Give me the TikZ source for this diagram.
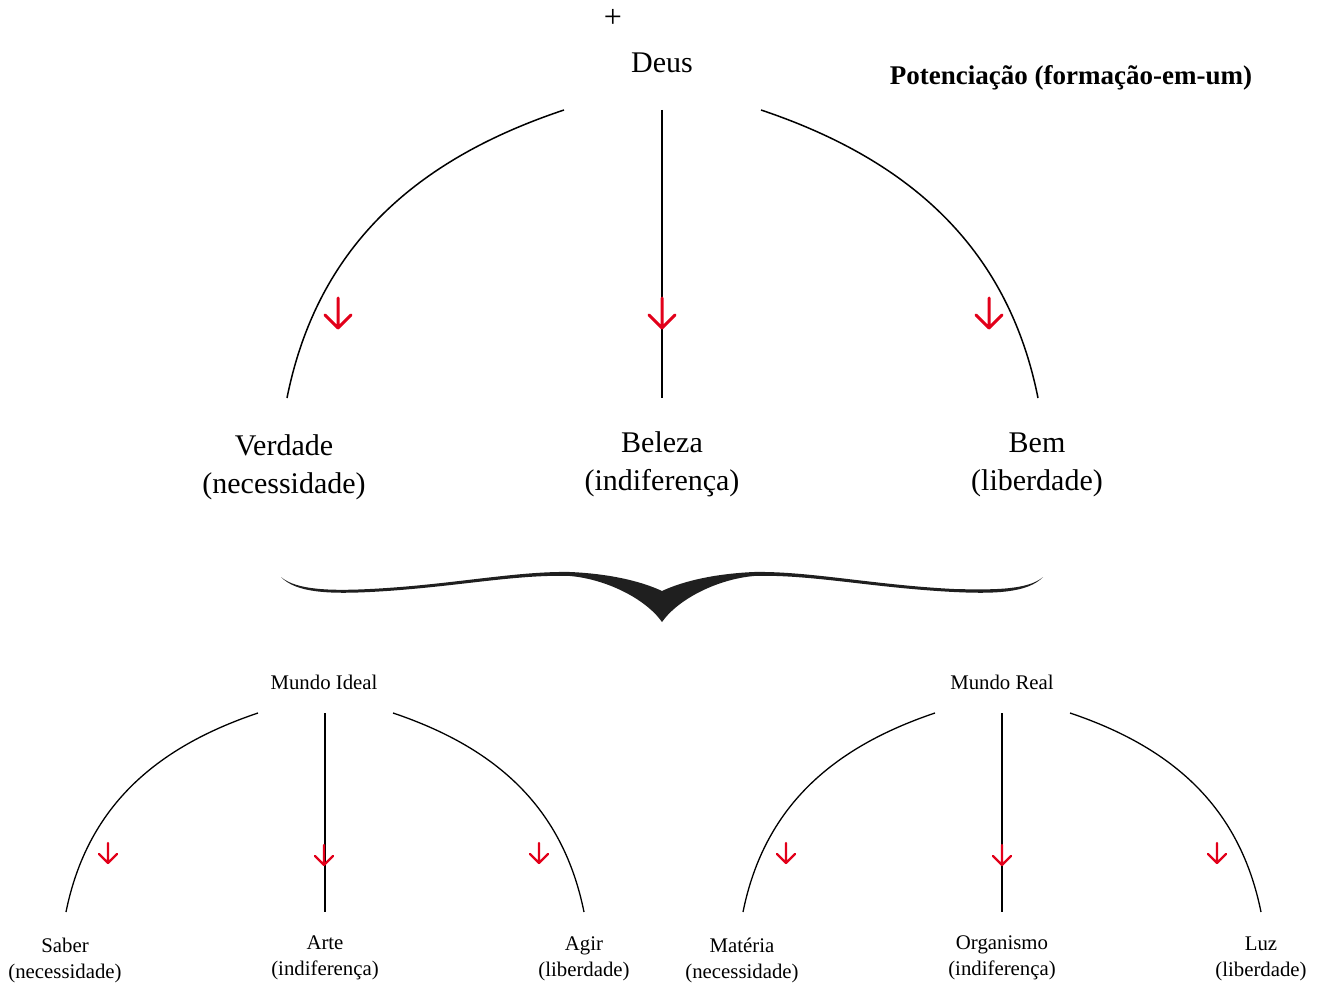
\documentclass[tikz,border=0pt]{standalone}
\usepackage{fontspec}
\setmainfont{Liberation Serif}
\begin{document}
\begin{tikzpicture}[x=1pt,y=-1pt,
  big/.style={font=\fontsize{30}{38}\selectfont,align=center,inner sep=0pt},
  small/.style={font=\fontsize{20.8}{26}\selectfont,align=center,inner sep=0pt},
  arcline/.style={line width=1.5pt,black},
  arcsmall/.style={line width=1.3pt,black},
  redarr/.pic={\draw[line width=3pt,draw={rgb,255:red,226;green,0;blue,26},line cap=round,line join=round]
     (0,-15) -- (0,15) (-13,2) -- (0,15) -- (13,2);},
  redarrs/.pic={\draw[line width=2.4pt,draw={rgb,255:red,226;green,0;blue,26},line cap=round,line join=round]
     (0,-10) -- (0,10) (-9,1) -- (0,10) -- (9,1);}
]
\useasboundingbox (0,0) rectangle (1326,987);
\clip (0,0) rectangle (1305,987);

% top marker and title
\node[font=\fontsize{32}{32}\selectfont,inner sep=0pt] (plus) at (613,18) {+};
\node[font=\fontsize{27}{30}\selectfont\bfseries,inner sep=0pt] (title) at (1071,78) {Potenciação (formação-em-um)};

% top tree
\node[big] (deus) at (662,63) {Deus};
\coordinate (tl) at (564,110);
\coordinate (tm) at (662,110);
\coordinate (tr) at (761,110);
\coordinate (bl) at (287,398);
\coordinate (bm) at (662,398);
\coordinate (br) at (1038,398);
\draw[arcline] (tl) .. controls (414,160) and (317,248) .. (bl);
\draw[arcline] (tm) -- (bm);
\draw[arcline] (tr) .. controls (910,160) and (1008,248) .. (br);
\pic at (338,313) {redarr};
\pic at (662,313) {redarr};
\pic at (989,313) {redarr};

\node[big] (verdade) at (284,467) {Verdade\\(necessidade)};
\node[big] (beleza) at (662,464) {Beleza\\(indiferença)};
\node[big] (bem) at (1037,465) {Bem\\(liberdade)};

% brace
\fill[black!88] (281,577)
  .. controls (296,593) and (330,594) .. (370,592)
  .. controls (450,588) and (515,574) .. (570,576)
  .. controls (605,579) and (645,598) .. (662,622)
  .. controls (679,598) and (719,579) .. (754,576)
  .. controls (809,574) and (874,588) .. (954,592)
  .. controls (994,594) and (1028,593) .. (1043,577)
  .. controls (1028,590) and (994,590) .. (954,589)
  .. controls (874,585) and (809,571) .. (754,572)
  .. controls (709,574) and (679,583) .. (662,591)
  .. controls (645,583) and (615,574) .. (570,572)
  .. controls (515,571) and (450,585) .. (370,589)
  .. controls (330,591) and (296,590) .. (281,577) -- cycle;

% bottom left tree
\node[small] (ideal) at (324,682) {Mundo Ideal};
\coordinate (itl) at (258,713);
\coordinate (itm) at (325,713);
\coordinate (itr) at (393,713);
\coordinate (ibl) at (66,912);
\coordinate (ibm) at (325,912);
\coordinate (ibr) at (584,912);
\draw[arcsmall] (itl) .. controls (154,748) and (87,808) .. (ibl);
\draw[arcsmall] (itm) -- (ibm);
\draw[arcsmall] (itr) .. controls (497,748) and (563,808) .. (ibr);
\pic at (108,853) {redarrs};
\pic at (324,855) {redarrs};
\pic at (539,853) {redarrs};

\node[small] (saber) at (65,960) {Saber\\(necessidade)};
\node[small] (arte) at (325,958) {Arte\\(indiferença)};
\node[small] (agir) at (584,959) {Agir\\(liberdade)};

% bottom right tree
\node[small] (real) at (1002,682) {Mundo Real};
\coordinate (rtl) at (935,713);
\coordinate (rtm) at (1002,713);
\coordinate (rtr) at (1070,713);
\coordinate (rbl) at (743,912);
\coordinate (rbm) at (1002,912);
\coordinate (rbr) at (1261,912);
\draw[arcsmall] (rtl) .. controls (831,748) and (764,808) .. (rbl);
\draw[arcsmall] (rtm) -- (rbm);
\draw[arcsmall] (rtr) .. controls (1174,748) and (1240,808) .. (rbr);
\pic at (786,853) {redarrs};
\pic at (1002,855) {redarrs};
\pic at (1217,853) {redarrs};

\node[small] (materia) at (742,960) {Matéria\\(necessidade)};
\node[small] (organismo) at (1002,958) {Organismo\\(indiferença)};
\node[small] (luz) at (1261,959) {Luz\\(liberdade)};
\end{tikzpicture}
\end{document}
